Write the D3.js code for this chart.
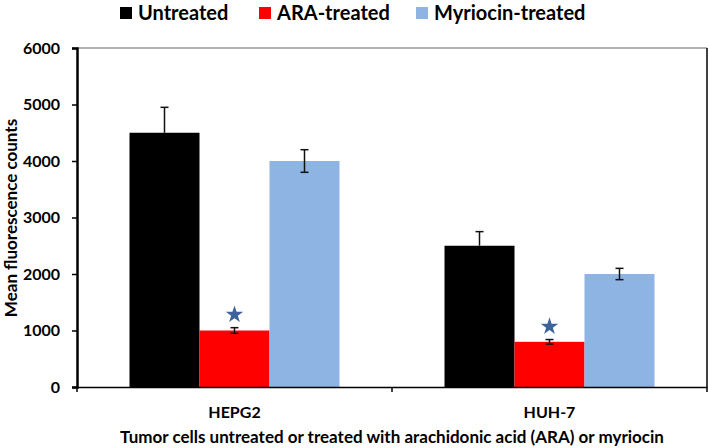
<!DOCTYPE html>
<html><head><meta charset="utf-8">
<script src="https://cdn.jsdelivr.net/npm/d3@7"></script>
<style>body{margin:0;background:#fff}svg{display:block}text{font-family:Lato,"Open Sans",sans-serif;font-weight:bold;fill:#000}</style>
</head><body><div id="c"></div>
<script>
const categories = ["HEPG2", "HUH-7"];
const seriesNames = ["Untreated", "ARA-treated", "Myriocin-treated"];
const seriesColors = ["#000000", "#ff0000", "#8db4e3"];
const untreated = [4500, 2500];
const untreatedErr = [450, 250];
const araTreated = [1000, 800];
const araErr = [50, 40];
const myriocin = [4000, 2000];
const myriocinErr = [200, 100];
const significant = [false, true, false];
const yTicks = [0, 1000, 2000, 3000, 4000, 5000, 6000];

const W = 709, H = 448;
const m = {l: 77, r: 2, t: 48, b: 61};
const svg = d3.select("#c").append("svg").attr("width", W).attr("height", H);
const x0 = d3.scaleBand().domain(categories).range([m.l, W - m.r]).paddingInner(0).paddingOuter(0);
const x1 = d3.scaleBand().domain(seriesNames).range([0, x0.bandwidth()]).paddingOuter(0.75).paddingInner(0);
const y = d3.scaleLinear().domain([0, 6000]).range([H - m.b, m.t]);

const series = [
  {name: seriesNames[0], vals: untreated, err: untreatedErr, color: seriesColors[0], star: significant[0]},
  {name: seriesNames[1], vals: araTreated, err: araErr, color: seriesColors[1], star: significant[1]},
  {name: seriesNames[2], vals: myriocin, err: myriocinErr, color: seriesColors[2], star: significant[2]}
];

// frame top & right
svg.append("line").attr("x1", m.l).attr("x2", W - m.r).attr("y1", m.t).attr("y2", m.t).attr("stroke", "#666").attr("stroke-width", 1);
svg.append("line").attr("x1", W - m.r).attr("x2", W - m.r).attr("y1", m.t).attr("y2", H - m.b).attr("stroke", "#000").attr("stroke-width", 1.5);

series.forEach(s => {
  const g = svg.append("g");
  categories.forEach((c, i) => {
    const bx = x0(c) + x1(s.name), bw = x1.bandwidth();
    g.append("rect").attr("x", bx).attr("y", y(s.vals[i])).attr("width", bw).attr("height", y(0) - y(s.vals[i])).attr("fill", s.color);
    const cx = bx + bw / 2;
    const hi = s.vals[i] + s.err[i];
    const lo = s.name === seriesNames[0] ? s.vals[i] : s.vals[i] - s.err[i];
    g.append("line").attr("x1", cx).attr("x2", cx).attr("y1", y(hi)).attr("y2", y(lo)).attr("stroke", "#111").attr("stroke-width", 1.5);
    g.append("line").attr("x1", cx - 4).attr("x2", cx + 4).attr("y1", y(hi)).attr("y2", y(hi)).attr("stroke", "#111").attr("stroke-width", 1.5);
    if (lo !== s.vals[i]) g.append("line").attr("x1", cx - 4).attr("x2", cx + 4).attr("y1", y(lo)).attr("y2", y(lo)).attr("stroke", "#111").attr("stroke-width", 1.5);
    if (s.star) {
      g.append("path").attr("d", d3.symbol(d3.symbolStar, 95)()).attr("fill", "#3d649a")
        .attr("transform", `translate(${cx},${y(hi) - 13})`);
    }
  });
});

// y axis
const ya = svg.append("g").attr("transform", `translate(${m.l},0)`)
  .call(d3.axisLeft(y).tickValues(yTicks).tickSize(5).tickPadding(12).tickFormat(d3.format("d")));
ya.select(".domain").attr("stroke", "#000").attr("stroke-width", 2.5);
ya.selectAll(".tick line").attr("stroke", "#000").attr("stroke-width", 1.5);
ya.selectAll("text").style("font-size", "16px").style("font-family", "Lato").style("font-weight", "bold");

// x axis
const xa = svg.append("g").attr("transform", `translate(0,${y(0)})`)
  .call(d3.axisBottom(x0).tickSize(0).tickPadding(20));
xa.select(".domain").attr("stroke", "#000").attr("stroke-width", 1.5);
xa.selectAll("text").style("font-size", "16px").style("font-family", "Lato").style("font-weight", "bold");
const bounds = [m.l, x0(categories[1]), W - m.r];
bounds.forEach(b => svg.append("line").attr("x1", b).attr("x2", b).attr("y1", y(0)).attr("y2", y(0) + 5).attr("stroke", "#000").attr("stroke-width", 1.5));

svg.append("text").attr("x", (m.l + W - m.r) / 2).attr("y", 443).attr("text-anchor", "middle").style("font-size", "17px")
  .text("Tumor cells untreated or treated with arachidonic acid (ARA) or myriocin");
svg.append("text").attr("transform", `translate(17,218) rotate(-90)`).attr("text-anchor", "middle").style("font-size", "17px")
  .text("Mean fluorescence counts");

// legend
const legX = [120, 259, 416];
const leg = svg.append("g");
series.forEach((s, i) => {
  leg.append("rect").attr("x", legX[i]).attr("y", 7).attr("width", 12).attr("height", 12).attr("fill", s.color);
  leg.append("text").attr("x", legX[i] + 18).attr("y", 20).style("font-size", "20px").text(s.name);
});
</script></body></html>
